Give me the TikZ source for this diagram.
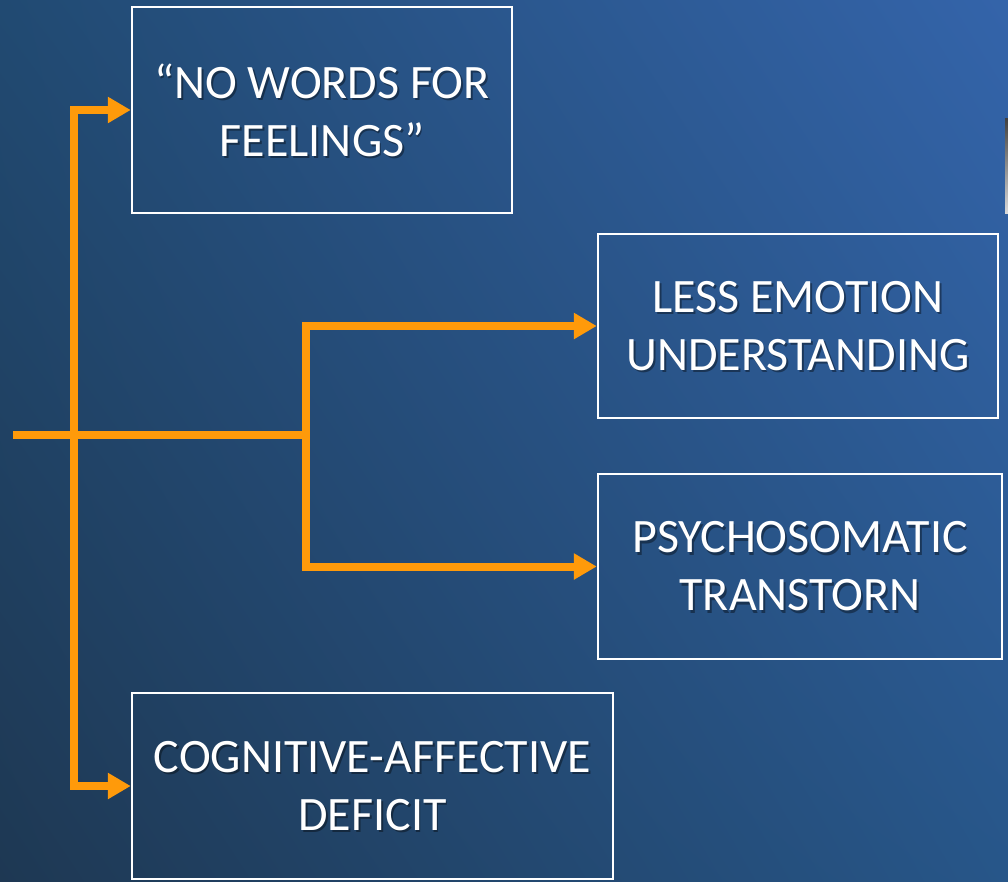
\documentclass[tikz,border=0pt]{standalone}
\usepackage{fontspec}
\setmainfont{Carlito}
\usetikzlibrary{arrows.meta,shadings}
\definecolor{bgLL}{HTML}{1E3853}
\definecolor{bgUL}{HTML}{214A72}
\definecolor{bgUR}{HTML}{3464AA}
\definecolor{bgLR}{HTML}{275689}
\definecolor{orng}{HTML}{FF9A0A}
\tikzset{
  box/.style={draw=white, line width=2.5pt, inner sep=0pt, align=center},
  lbl/.style={text=white, align=center, font=\fontsize{48}{58}\selectfont},
  lblshadow/.style={text=black, opacity=0.38, align=center, font=\fontsize{48}{58}\selectfont},
  conn/.style={draw=orng, line width=8pt, line join=miter, -{Triangle[length=23pt,width=25pt]}},
  trunk/.style={draw=orng, line width=8pt, line join=miter},
}
\begin{document}
\begin{tikzpicture}[x=1pt,y=-1pt]
\useasboundingbox (0,0) rectangle (1008,881);
\shade[upper left=bgUL, upper right=bgUR, lower left=bgLL, lower right=bgLR] (0,0) rectangle (1008,881);
\shade[top color=black!75, bottom color=white!85!black] (1005,118) rectangle (1008,213);
% boxes
\node[box, minimum width=380pt, minimum height=206pt] (b1) at (322,110) {};
\node[box, minimum width=400pt, minimum height=184pt] (b2) at (798,326) {};
\node[box, minimum width=404pt, minimum height=185pt] (b3) at (800,566.5) {};
\node[box, minimum width=481pt, minimum height=186pt] (b4) at (372.5,786) {};
% text shadows
\node[lblshadow] (t1s) at ([shift={(1.8,2.2)}]b1.center) {“NO WORDS FOR\\FEELINGS”};
\node[lblshadow] (t2s) at ([shift={(1.8,2.2)}]b2.center) {LESS EMOTION\\UNDERSTANDING};
\node[lblshadow] (t3s) at ([shift={(1.8,2.2)}]b3.center) {PSYCHOSOMATIC\\TRANSTORN};
\node[lblshadow] (t4s) at ([shift={(1.8,2.2)}]b4.center) {COGNITIVE-AFFECTIVE\\DEFICIT};
% text
\node[lbl] (t1) at (b1.center) {“NO WORDS FOR\\FEELINGS”};
\node[lbl] (t2) at (b2.center) {LESS EMOTION\\UNDERSTANDING};
\node[lbl] (t3) at (b3.center) {PSYCHOSOMATIC\\TRANSTORN};
\node[lbl] (t4) at (b4.center) {COGNITIVE-AFFECTIVE\\DEFICIT};
% connectors
\coordinate (start) at (13,435);
\coordinate (jl) at (74,435);
\coordinate (jr) at (306,435);
\draw[trunk] (start) -- ([xshift=4pt]jr);
\draw[conn] (jl) |- (b1.west);
\draw[conn] (jl) |- (b4.west);
\draw[conn] (jr) |- (b2.west);
\draw[conn] (jr) |- (b3.west);
\end{tikzpicture}
\end{document}
